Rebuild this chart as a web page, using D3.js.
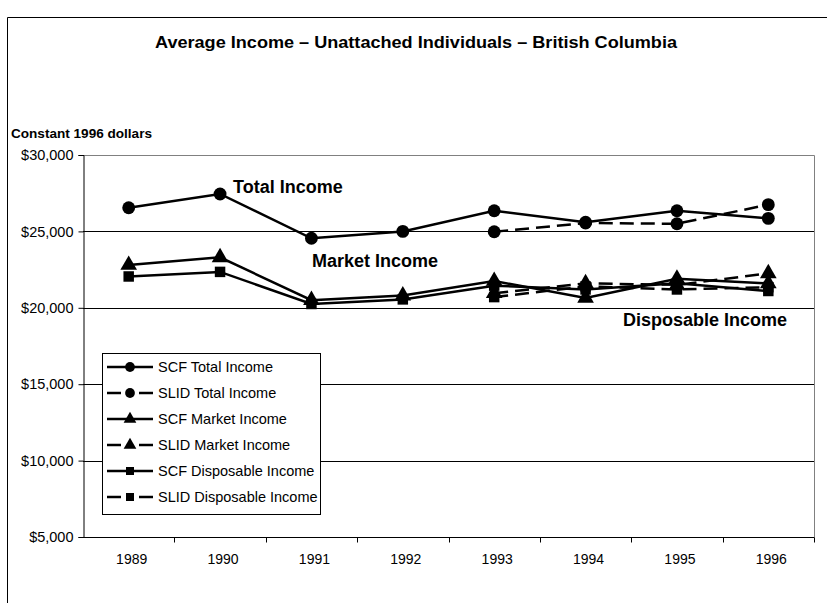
<!DOCTYPE html>
<html><head><meta charset="utf-8">
<script src="https://cdn.jsdelivr.net/npm/d3@7"></script>
<style>body{margin:0;background:#fff}svg{display:block;font-family:"Liberation Sans",Arial,sans-serif}</style>
</head><body><svg id="c" width="827" height="603"></svg>
<script>
const years = ["1989","1990","1991","1992","1993","1994","1995","1996"];
const scfTotal   = [26550, 27450, 24550, 25000, 26350, 25600, 26350, 25850];
const slidTotal  = [null, null, null, null, 24980, 25550, 25500, 26750];
const scfMarket  = [22800, 23300, 20500, 20800, 21750, 20650, 21900, 21600];
const slidMarket = [null, null, null, null, 20950, 21600, 21500, 22250];
const scfDisp    = [22050, 22350, 20250, 20550, 21450, 21200, 21600, 21100];
const slidDisp   = [null, null, null, null, 20700, 21400, 21200, 21350];
const yTicks = [5000, 10000, 15000, 20000, 25000, 30000];
const seriesNames = ["SCF Total Income","SLID Total Income","SCF Market Income","SLID Market Income","SCF Disposable Income","SLID Disposable Income"];

const series = [
  {name: seriesNames[0], values: scfTotal, dash: null, sym: d3.symbolCircle},
  {name: seriesNames[1], values: slidTotal, dash: "14,7", sym: d3.symbolCircle},
  {name: seriesNames[2], values: scfMarket, dash: null, sym: d3.symbolTriangle},
  {name: seriesNames[3], values: slidMarket, dash: "14,7", sym: d3.symbolTriangle},
  {name: seriesNames[4], values: scfDisp, dash: null, sym: d3.symbolSquare},
  {name: seriesNames[5], values: slidDisp, dash: "14,7", sym: d3.symbolSquare}
];

const svg = d3.select("#c");
const L = 83, R = 814, T = 155, B = 537;
const x = d3.scaleBand().domain(years).range([L, R]);
const y = d3.scaleLinear().domain([5000, 30000]).range([B, T]);

// outer border
svg.append("path").attr("d", "M7.5,603V17.5H827").attr("fill","none").attr("stroke","#000").attr("stroke-width",1);

// title
svg.append("text").attr("x", 416).attr("y", 48).attr("text-anchor","middle")
  .attr("font-size", 16).attr("font-weight","bold")
  .attr("textLength", 522).attr("lengthAdjust","spacingAndGlyphs")
  .text("Average Income – Unattached Individuals – British Columbia");
svg.append("text").attr("x", 11).attr("y", 138).attr("font-size", 12).attr("font-weight","bold")
  .attr("textLength", 141).attr("lengthAdjust","spacingAndGlyphs").text("Constant 1996 dollars");

// plot border (top/right gray)
svg.append("path").attr("d", `M${L},${T+0.5}H${R+0.5}V${B}`).attr("fill","none").attr("stroke","#808080").attr("stroke-width",1);
// gridlines
svg.append("g").selectAll("line").data(yTicks.filter(v => v > 5000 && v < 30000)).join("line")
  .attr("x1", L).attr("x2", R).attr("y1", d => Math.round(y(d))+0.5).attr("y2", d => Math.round(y(d))+0.5)
  .attr("stroke","#000").attr("stroke-width",1);

// y axis
const yAxis = d3.axisLeft(y).tickValues(yTicks).tickSize(5).tickFormat(d => "$" + d3.format(",")(d));
const gy = svg.append("g").attr("transform", `translate(${L+0.5},0)`).call(yAxis);
gy.select(".domain").attr("stroke","#000");
gy.selectAll("text").attr("font-size", 14.5).attr("font-family","Liberation Sans, Arial").attr("fill","#000").attr("dx", -2);

// x axis
const xAxis = d3.axisBottom(x).tickSize(0).tickPadding(17);
const gx = svg.append("g").attr("transform", `translate(0,${B+0.5})`).call(xAxis);
gx.select(".domain").attr("stroke","#000").attr("d", `M${L},0H${R+0.5}`);
gx.selectAll("text").attr("font-size", 14).attr("font-family","Liberation Sans, Arial").attr("fill","#000").attr("dx", 3);
gx.append("g").selectAll("line").data(years).join("line")
  .attr("x1", d => Math.round(x(d) + x.bandwidth())+0.5).attr("x2", d => Math.round(x(d) + x.bandwidth())+0.5)
  .attr("y1", 0).attr("y2", 5).attr("stroke","#000");

// lines
const line = d3.line().defined(d => d.v != null).x(d => x(d.k) + x.bandwidth()/2).y(d => y(d.v));
series.forEach(s => {
  const pts = years.map((k, i) => ({k, v: s.values[i]}));
  svg.append("path").datum(pts).attr("d", line).attr("fill","none").attr("stroke","#000")
    .attr("stroke-width", 2.5).attr("stroke-dasharray", s.dash);
  const size = s.sym === d3.symbolCircle ? 130 : (s.sym === d3.symbolSquare ? 110 : 120);
  svg.append("g").selectAll("path").data(pts.filter(d => d.v != null)).join("path")
    .attr("transform", d => `translate(${x(d.k) + x.bandwidth()/2},${y(d.v)})`)
    .attr("d", d3.symbol().type(s.sym).size(size)).attr("fill","#000");
});

// inline labels
svg.append("text").attr("x", 233).attr("y", 193).attr("font-size", 18).attr("font-weight","bold").text("Total Income");
svg.append("text").attr("x", 312).attr("y", 267).attr("font-size", 18).attr("font-weight","bold").text("Market Income");
svg.append("text").attr("x", 623).attr("y", 326).attr("font-size", 18).attr("font-weight","bold").text("Disposable Income");

// legend
const lg = svg.append("g");
lg.append("rect").attr("x", 102.5).attr("y", 353.5).attr("width", 218).attr("height", 161)
  .attr("fill","#fff").attr("stroke","#000");
series.forEach((s, i) => {
  const cy = 367 + i * 26;
  const segs = s.dash ? [[107, 121], [139, 153]] : [[107, 153]];
  segs.forEach(([a, b]) => lg.append("line").attr("x1", a).attr("x2", b).attr("y1", cy).attr("y2", cy)
    .attr("stroke","#000").attr("stroke-width", 2.5));
  const size = s.sym === d3.symbolCircle ? 75 : (s.sym === d3.symbolSquare ? 65 : 70);
  lg.append("path").attr("transform", `translate(130,${cy})`).attr("d", d3.symbol().type(s.sym).size(size)).attr("fill","#000");
  lg.append("text").attr("x", 158).attr("y", cy + 5).attr("font-size", 14.5).text(s.name);
});
</script></body></html>
